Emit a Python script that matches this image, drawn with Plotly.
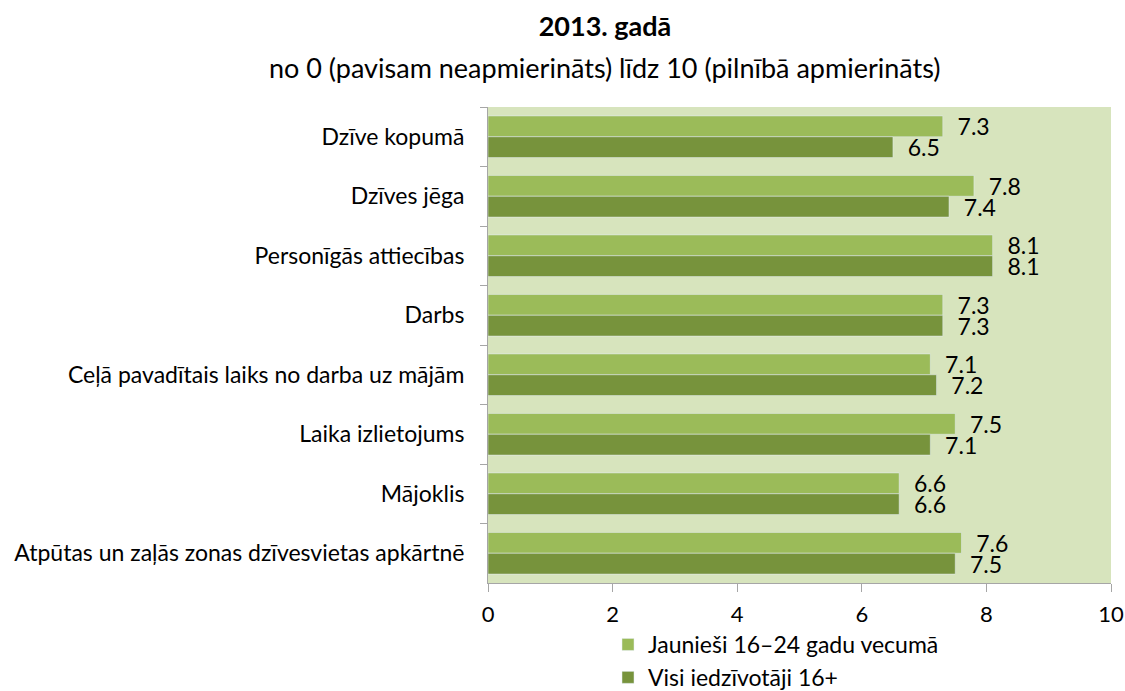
import plotly.graph_objects as go

# ── Data ───────────────────────────────────────────────────────────────────────
categories = [
    'Dzīve kopumā',
    'Dzīves jēga',
    'Personīgās attiecības',
    'Darbs',
    'Ceļā pavadītais laiks no darba uz mājām',
    'Laika izlietojums',
    'Mājoklis',
    'Atpūtas un zaļās zonas dzīvesvietas apkārtnē',
]
youth_vals = [7.3, 7.8, 8.1, 7.3, 7.1, 7.5, 6.6, 7.6]
all_vals   = [6.5, 7.4, 8.1, 7.3, 7.2, 7.1, 6.6, 7.5]
series_names = ['Jaunieši 16–24 gadu vecumā', 'Visi iedzīvotāji 16+']
x_ticks = [0, 2, 4, 6, 8, 10]

FONT = 'Lato'
FS = 23
COLORS = ['#9BBB59', '#77933C']

# body margin is removed in the page (post_script), so pixels map 1:1
W, H = 1125, 691
L, R, T, B = 488, 14, 107, 108
PW, PH = W - L - R, H - T - B

# ── Figure ─────────────────────────────────────────────────────────────────────
fig = go.Figure()
for i, (name, vals, col) in enumerate(zip(series_names, [youth_vals, all_vals], COLORS)):
    fig.add_trace(go.Bar(
        name=name, y=categories, x=vals,
        orientation='h',
        marker_color=col,
        legendgroup=f'g{i}',
        text=[f'{v:.1f}' for v in vals],
        texttemplate='  %{text}',
        textposition='outside',
        constraintext='none',
        textfont=dict(size=FS, color='#000000', family=FONT),
        cliponaxis=False,
    ))

fig.update_layout(
    width=W, height=H,
    barmode='group', bargap=0.3, bargroupgap=0,
    paper_bgcolor='white',
    plot_bgcolor='#D7E4BD',
    font=dict(family=FONT, size=FS, color='#000000'),
    margin=dict(l=L, r=R, t=T, b=B, autoexpand=False),
    title=dict(
        text='<b>2013. gadā</b>',
        x=605 / W, xanchor='center',
        y=1 - 27 / H, yanchor='middle',
        font=dict(size=27, family=FONT),
    ),
    legend=dict(
        x=(608 - L) / PW, xanchor='left',
        y=-40 / PH, yanchor='top',
        orientation='v', traceorder='grouped',
        tracegroupgap=0,
        font=dict(size=FS, family=FONT),
        bgcolor='rgba(0,0,0,0)',
    ),
    showlegend=True,
)

fig.add_annotation(
    text='no 0 (pavisam neapmierināts) līdz 10 (pilnībā apmierināts)',
    xref='paper', yref='paper',
    x=(605 - L) / PW, xanchor='center',
    y=1 + (T - 67) / PH, yanchor='middle',
    showarrow=False,
    font=dict(size=27, family=FONT),
)

fig.update_xaxes(
    range=[0, 10], tickvals=x_ticks,
    showgrid=False, zeroline=False, automargin=False,
    showline=True, linecolor='#A6A6A6', linewidth=1,
    ticks='outside', ticklen=8, tickcolor='#A6A6A6',
    ticklabelstandoff=4, ticklabeloverflow='allow',
    tickfont=dict(size=22),
)
fig.update_yaxes(
    autorange='reversed', automargin=False,
    showgrid=False,
    showline=True, linecolor='#A6A6A6', linewidth=1,
    ticks='outside', ticklen=7, tickcolor='#A6A6A6',
    tickson='boundaries',
    ticklabelstandoff=18,
    tickfont=dict(size=FS),
)

fig.write_html(
    'out.html',
    config={'displayModeBar': False},
    post_script="document.body.style.margin='0';document.body.style.overflow='hidden';",
)
